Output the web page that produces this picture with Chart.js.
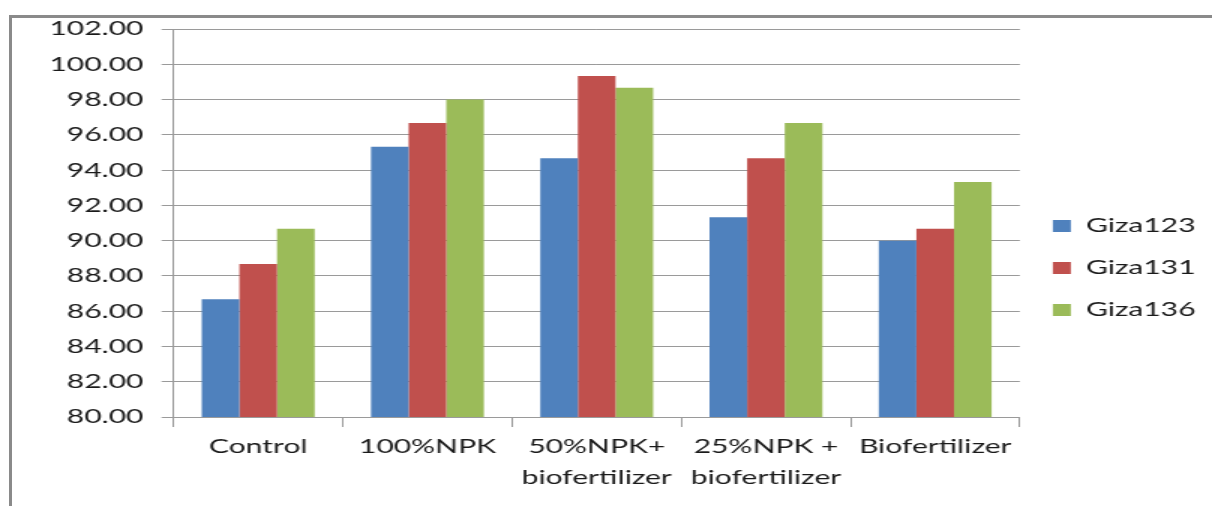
<!DOCTYPE html>
<html>
<head>
<meta charset="utf-8">
<script src="https://cdn.jsdelivr.net/npm/chart.js@4/dist/chart.umd.min.js"></script>
<style>
    html, body { margin: 0; padding: 0; background: #fff; }
    body { width: 1212px; height: 506px; position: relative; overflow: hidden; }
    /* the original figure is an Excel chart stretched sideways, so the canvas is too */
    #wrap { position: absolute; left: 0; top: 0; width: 808px; height: 506px; transform: scaleX(1.5); transform-origin: 0 0; }
    #frame { position: absolute; left: 9px; top: 15px; right: -10px; bottom: -10px; border-top: 3px solid #8a8a8a; border-left: 3px solid #8a8a8a; pointer-events: none; }
</style>
</head>
<body>
<div id="wrap"><canvas id="yieldChart" width="808" height="506"></canvas></div>
<div id="frame"></div>
<script>
const categories = ['Control', '100%NPK', ['50%NPK+', 'biofertilizer'], ['25%NPK +', 'biofertilizer'], 'Biofertilizer'];
const giza123 = [86.67, 95.33, 94.67, 91.33, 90.00];
const giza131 = [88.67, 96.67, 99.33, 94.67, 90.67];
const giza136 = [90.67, 98.00, 98.67, 96.67, 93.33];
const yMin = 80;
const yMax = 102;
const yStep = 2;

const font = { family: 'Lato', size: 20 };
const textColor = '#1a1a1a';
const gridColor = '#9a9a9a';

function series(label, data, color) {
    return {
        label: label,
        data: data,
        backgroundColor: color,
        borderWidth: 0,
        categoryPercentage: 0.667,
        barPercentage: 1.0
    };
}

new Chart(document.getElementById('yieldChart'), {
    type: 'bar',
    data: {
        labels: categories,
        datasets: [
            series('Giza123', giza123, '#4f81bd'),
            series('Giza131', giza131, '#c0504d'),
            series('Giza136', giza136, '#9bbb59')
        ]
    },
    options: {
        responsive: false,
        animation: false,
        layout: { padding: { left: 21, top: 29, right: 1, bottom: 9 } },
        plugins: {
            tooltip: { enabled: false },
            legend: {
                position: 'right',
                // blank title only nudges the entries down a little
                title: { display: true, text: ' ', font: { size: 5 }, padding: 2 },
                labels: {
                    font: font,
                    color: textColor,
                    boxWidth: 12,
                    boxHeight: 12,
                    padding: 22
                }
            }
        },
        scales: {
            x: {
                grid: { offset: true, drawOnChartArea: false, drawTicks: true, tickLength: 10, color: gridColor },
                border: { color: gridColor },
                ticks: { font: { family: 'Lato', size: 20, lineHeight: 1.55 }, color: textColor, padding: 4, maxRotation: 0, autoSkip: false }
            },
            y: {
                min: yMin,
                max: yMax,
                grid: { color: gridColor, tickLength: 8 },
                border: { color: gridColor },
                ticks: {
                    stepSize: yStep,
                    font: font,
                    color: textColor,
                    padding: 12,
                    callback: (v) => Number(v).toFixed(2)
                }
            }
        }
    }
});
</script>
</body>
</html>
